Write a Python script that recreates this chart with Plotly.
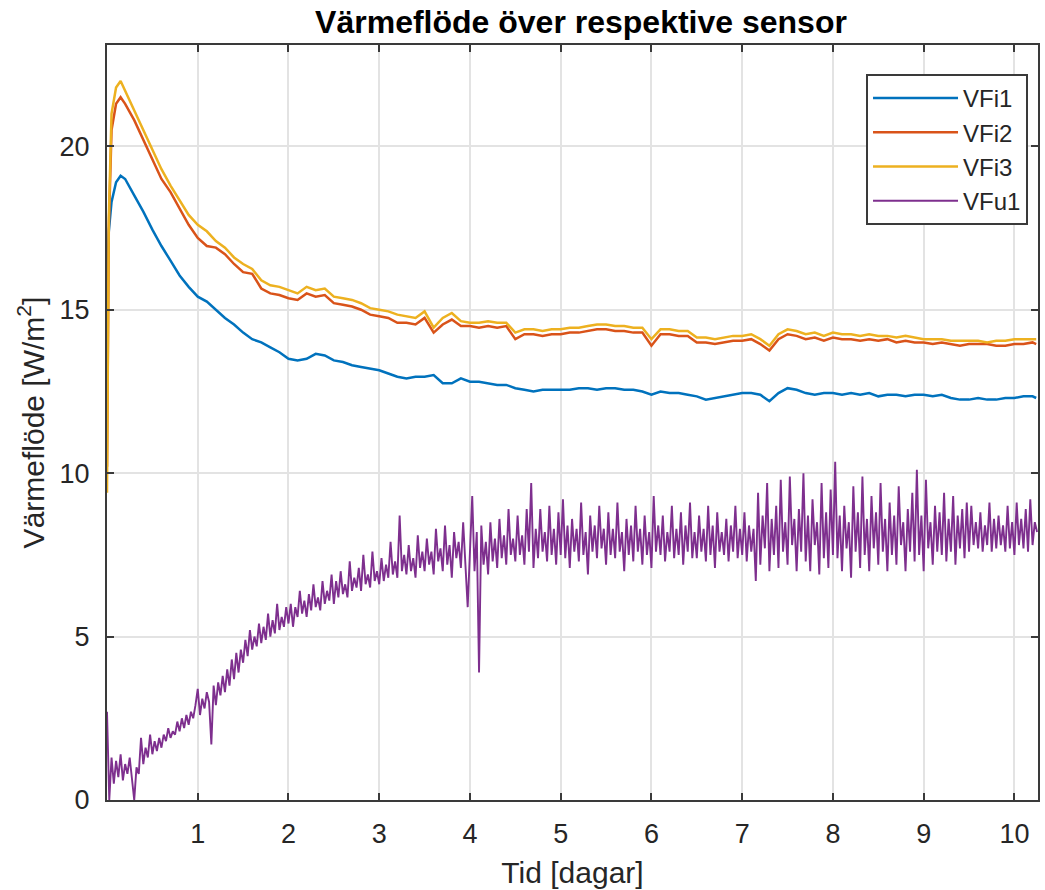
import numpy as np
import plotly.graph_objects as go

# Time axis (days) for the three inner sensors
t_inner = np.concatenate([[0.0, 0.02, 0.05, 0.10, 0.15],
                          np.round(np.arange(0.2, 10.21, 0.1), 2),
                          [10.24]])

# Heat flux, inner sensors [W/m2]
vfi1 = [15.9, 17.4, 18.3, 18.9, 19.1,
        19.0, 18.5, 18.0, 17.45, 16.95, 16.5, 16.05, 15.7, 15.4, 15.25,
        15.0, 14.75, 14.55, 14.3, 14.1, 14.0, 13.85, 13.7, 13.5, 13.45,
        13.5, 13.65, 13.6, 13.45, 13.4, 13.3, 13.25, 13.2, 13.15, 13.05,
        12.95, 12.9, 12.95, 12.95, 13.0, 12.75, 12.75, 12.9, 12.8, 12.8,
        12.75, 12.7, 12.7, 12.6, 12.55, 12.5, 12.55, 12.55, 12.55, 12.55,
        12.6, 12.6, 12.55, 12.6, 12.6, 12.55, 12.55, 12.5, 12.4, 12.5,
        12.45, 12.45, 12.4, 12.35, 12.25, 12.3, 12.35, 12.4, 12.45, 12.45,
        12.4, 12.2, 12.45, 12.6, 12.55, 12.45, 12.4, 12.45, 12.45, 12.4,
        12.45, 12.4, 12.45, 12.35, 12.4, 12.4, 12.35, 12.4, 12.4, 12.35,
        12.4, 12.3, 12.25, 12.25, 12.3, 12.25, 12.25, 12.3, 12.3, 12.35,
        12.35, 12.3]

vfi2 = [10.2, 17.5, 20.5, 21.3, 21.5,
        21.3, 20.8, 20.2, 19.6, 19.0, 18.6, 18.1, 17.6, 17.2, 16.95,
        16.9, 16.7, 16.4, 16.15, 16.1, 15.65, 15.5, 15.45, 15.35, 15.3,
        15.5, 15.4, 15.45, 15.2, 15.15, 15.1, 15.0, 14.85, 14.8, 14.75,
        14.6, 14.6, 14.55, 14.75, 14.3, 14.55, 14.7, 14.5, 14.5, 14.45,
        14.5, 14.45, 14.5, 14.1, 14.25, 14.25, 14.2, 14.25, 14.25, 14.3,
        14.3, 14.35, 14.4, 14.4, 14.35, 14.35, 14.3, 14.3, 13.9, 14.25,
        14.25, 14.2, 14.2, 14.0, 14.0, 13.95, 14.0, 14.05, 14.05, 14.1,
        13.95, 13.75, 14.1, 14.25, 14.2, 14.1, 14.15, 14.05, 14.15, 14.1,
        14.1, 14.05, 14.1, 14.05, 14.1, 14.0, 14.05, 14.0, 14.0, 13.95,
        14.0, 13.95, 13.9, 13.95, 13.95, 13.95, 13.9, 13.9, 13.95, 13.95,
        14.0, 13.95]

vfi3 = [9.4, 17.8, 21.0, 21.8, 22.0,
        21.7, 21.1, 20.5, 19.9, 19.3, 18.8, 18.35, 17.9, 17.6, 17.4,
        17.1, 16.9, 16.6, 16.4, 16.25, 15.9, 15.75, 15.7, 15.6, 15.5,
        15.7, 15.6, 15.65, 15.4, 15.35, 15.3, 15.2, 15.05, 15.0, 14.95,
        14.85, 14.8, 14.75, 14.95, 14.45, 14.75, 14.9, 14.65, 14.6, 14.6,
        14.65, 14.6, 14.6, 14.3, 14.4, 14.4, 14.35, 14.4, 14.4, 14.45,
        14.45, 14.5, 14.55, 14.55, 14.5, 14.5, 14.45, 14.45, 14.1, 14.4,
        14.4, 14.35, 14.35, 14.15, 14.15, 14.1, 14.15, 14.2, 14.2, 14.25,
        14.1, 13.9, 14.25, 14.4, 14.35, 14.25, 14.3, 14.2, 14.3, 14.25,
        14.25, 14.2, 14.25, 14.2, 14.2, 14.15, 14.2, 14.15, 14.1, 14.1,
        14.1, 14.05, 14.05, 14.05, 14.05, 14.0, 14.05, 14.05, 14.1, 14.1,
        14.1, 14.1]

# Time axis (days) for the outer sensor
t_outer = np.round(np.arange(0.0, 10.2501, 0.025), 3)

# Heat flux, outer sensor [W/m2], one row per half day
vfu1 = [2.7, 0.0, 1.3, 0.5, 1.2, 0.7, 1.4, 0.6, 1.1, 0.8, 1.3, 0.7, 0.0, 1.0, 0.8, 1.9, 1.1, 1.6, 1.3, 2.0,
        1.4, 1.8, 1.5, 1.9, 1.6, 2.0, 1.8, 2.2, 1.9, 2.1, 2.0, 2.4, 2.1, 2.5, 2.2, 2.6, 2.3, 2.7, 2.5, 2.9,
        3.4, 2.6, 3.1, 2.8, 3.3, 3.0, 1.7, 3.5, 2.9, 3.6, 3.2, 3.8, 3.3, 4.0, 3.5, 4.3, 3.7, 4.5, 3.9, 4.6,
        4.2, 4.9, 4.4, 5.2, 4.6, 5.0, 4.7, 5.4, 4.8, 5.3, 4.9, 5.7, 5.0, 5.5, 5.1, 6.0, 5.2, 5.6, 5.3, 5.9,
        5.4, 6.0, 5.3, 5.9, 5.6, 6.4, 5.7, 6.1, 5.6, 6.3, 5.8, 6.6, 5.9, 6.2, 5.8, 6.7, 6.0, 6.4, 6.1, 6.9,
        6.0, 6.7, 6.2, 7.0, 6.3, 6.6, 6.2, 7.3, 6.4, 6.8, 6.5, 7.1, 6.4, 7.5, 6.6, 6.9, 6.5, 7.6, 6.7, 7.0,
        6.6, 7.4, 6.7, 7.2, 6.8, 7.9, 6.9, 7.3, 6.8, 8.7, 7.0, 7.5, 6.9, 7.8, 7.0, 7.4, 6.8, 8.1, 7.1, 7.6,
        7.0, 8.0, 7.2, 7.6, 6.9, 8.3, 7.3, 7.7, 7.0, 8.4, 7.2, 7.8, 6.8, 8.2, 7.4, 7.9, 7.1, 8.5, 7.3, 5.9,
        7.6, 9.3, 7.0, 8.2, 3.9, 8.4, 7.2, 7.9, 6.9, 8.5, 7.3, 8.0, 7.1, 8.6, 7.4, 8.1, 7.2, 8.9, 7.5, 8.0,
        7.3, 8.7, 7.5, 8.1, 7.2, 8.9, 7.6, 9.7, 7.1, 8.3, 7.4, 8.9, 7.6, 8.2, 7.3, 9.0, 7.5, 8.3, 7.2, 8.8,
        7.5, 9.2, 7.4, 8.4, 7.1, 8.6, 7.6, 8.3, 7.3, 9.1, 7.5, 8.2, 6.9, 8.7, 7.6, 8.4, 7.4, 9.0, 7.7, 8.3,
        7.2, 8.8, 7.5, 8.3, 7.4, 9.1, 7.6, 8.2, 7.0, 8.6, 7.5, 8.4, 7.3, 9.0, 7.6, 8.3, 7.2, 8.7, 7.5, 8.2,
        7.1, 9.3, 7.6, 8.4, 7.5, 8.7, 7.3, 8.2, 7.6, 9.0, 7.4, 8.3, 7.5, 8.8, 7.2, 8.4, 7.6, 9.1, 7.4, 8.2,
        7.4, 8.7, 7.6, 8.3, 7.3, 9.0, 7.5, 8.4, 7.1, 8.8, 7.6, 8.2, 7.5, 8.6, 7.3, 8.4, 7.6, 9.0, 7.4, 8.3,
        7.5, 8.8, 7.3, 8.4, 7.6, 8.3, 6.7, 9.4, 7.2, 8.7, 7.7, 9.7, 7.0, 8.6, 7.5, 9.0, 7.1, 9.8, 7.6, 8.5,
        7.2, 9.9, 7.8, 8.6, 7.0, 8.9, 7.6, 10.0, 7.3, 8.7, 7.0, 9.2, 7.8, 8.5, 6.9, 9.7, 7.4, 8.8, 7.1, 9.5,
        7.5, 10.35, 7.4, 8.7, 7.0, 9.0, 7.7, 8.5, 6.8, 9.6, 7.6, 8.8, 7.1, 9.9, 7.5, 8.6, 7.0, 9.3, 7.7, 8.8,
        7.2, 9.7, 7.6, 8.6, 7.0, 9.1, 7.5, 8.7, 7.2, 9.6, 7.8, 8.5, 7.0, 8.9, 7.6, 9.4, 7.3, 10.1, 7.5, 8.7,
        7.0, 9.8, 7.7, 8.5, 7.2, 9.0, 7.6, 8.8, 7.5, 9.4, 7.3, 8.6, 7.6, 9.3, 7.2, 8.7, 7.7, 8.9, 7.4, 9.1,
        7.6, 9.0, 7.8, 8.5, 7.7, 8.8, 7.6, 8.4, 7.8, 9.1, 7.6, 8.6, 7.7, 8.7, 7.8, 8.4, 7.6, 9.0, 7.7, 8.5,
        7.5, 9.1, 7.8, 8.6, 7.7, 8.9, 7.6, 9.2, 7.8, 8.5, 8.2]

series_names = ["VFi1", "VFi2", "VFi3", "VFu1"]
series_colors = ["#0072BD", "#D95319", "#EDB120", "#7E2F8E"]

x_ticks = [1, 2, 3, 4, 5, 6, 7, 8, 9, 10]
y_ticks = [0, 5, 10, 15, 20]

FONT = "Liberation Sans, Arial, sans-serif"
AX_COLOR = "#3a3a3a"
TXT_COLOR = "#262626"

fig = go.Figure()
data = [(t_inner, vfi1), (t_inner, vfi2), (t_inner, vfi3), (t_outer, vfu1)]
for (t, v), name, col in zip(data, series_names, series_colors):
    fig.add_trace(go.Scatter(
        x=t, y=v, name=name, mode="lines",
        line=dict(color=col, width=2.5 if name != "VFu1" else 1.9),
    ))

axis_common = dict(
    showline=True, linecolor=AX_COLOR, linewidth=2, mirror="ticks",
    ticks="inside", ticklen=7, tickwidth=1.5, tickcolor=AX_COLOR,
    showgrid=True, gridcolor="#e3e3e3", gridwidth=1.5,
    zeroline=False,
    tickfont=dict(family=FONT, size=27, color=TXT_COLOR),
)

fig.update_layout(
    width=1045, height=890,
    margin=dict(l=107, r=5, t=45, b=90),
    paper_bgcolor="white", plot_bgcolor="white",
    font=dict(family=FONT, color=TXT_COLOR),
    title=dict(
        text="<b>Värmeflöde över respektive sensor</b>",
        x=581 / 1045, xanchor="center",
        y=1 - 22 / 890, yanchor="middle",
        font=dict(family=FONT, size=32, color="#000000"),
    ),
    xaxis=dict(
        range=[0, 10.26], tickvals=x_ticks,
        ticklabelstandoff=9,
        title=dict(text="Tid [dagar]", standoff=14,
                   font=dict(family=FONT, size=30, color=TXT_COLOR)),
        **axis_common,
    ),
    yaxis=dict(
        range=[0, 23.1], tickvals=y_ticks,
        ticklabelstandoff=10,
        title=dict(text="Värmeflöde [W/m<sup>2</sup>]", standoff=6,
                   font=dict(family=FONT, size=30, color=TXT_COLOR)),
        **axis_common,
    ),
    legend=dict(
        x=(1030 - 107) / 933, xanchor="right",
        y=(800 - 74) / 755, yanchor="top",
        bgcolor="white", bordercolor=AX_COLOR, borderwidth=2,
        font=dict(family=FONT, size=24, color=TXT_COLOR),
        itemwidth=85,
    ),
    showlegend=True,
)

fig.write_html("out.html")
